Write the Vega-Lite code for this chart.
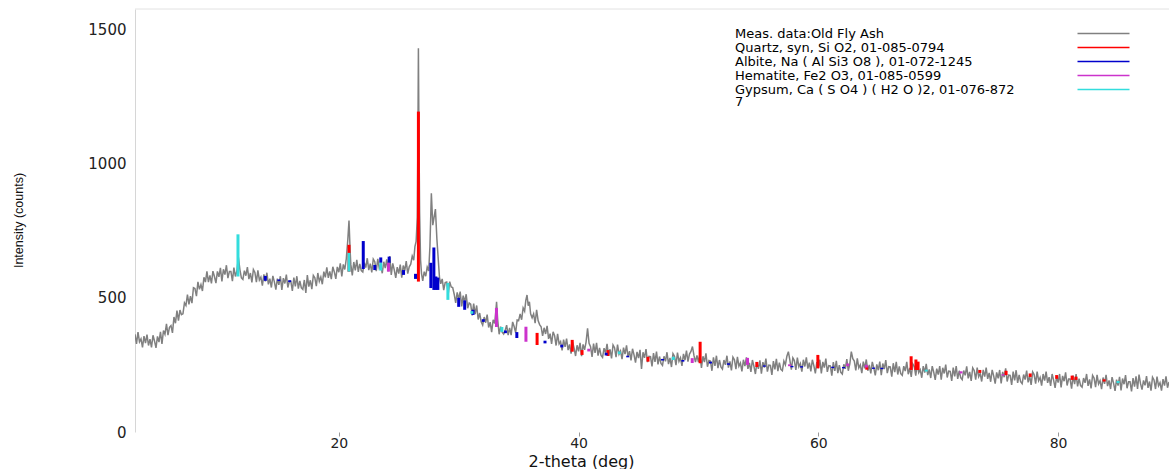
{
"$schema": "https://vega.github.io/schema/vega-lite/v6.json",
"width": 1034,
"height": 423,
"autosize": {"type": "none"},
"padding": {"left": 135, "top": 9, "right": 0, "bottom": 37},
"background": "white",
"config": {"view": {"stroke": null}, "font": "DejaVu Sans"},
"datasets": {
"meas": [
{"t":3,"i":364},{"t":3.125,"i":328},{"t":3.25,"i":372},{"t":3.375,"i":336},{"t":3.5,"i":347},{"t":3.625,"i":315},{"t":3.75,"i":357},{"t":3.875,"i":331},
{"t":4,"i":363},{"t":4.125,"i":322},{"t":4.25,"i":346},{"t":4.375,"i":315},{"t":4.5,"i":360},{"t":4.625,"i":339},{"t":4.75,"i":313},{"t":4.875,"i":356},
{"t":5,"i":335},{"t":5.125,"i":373},{"t":5.25,"i":328},{"t":5.375,"i":378},{"t":5.5,"i":364},{"t":5.625,"i":403},{"t":5.75,"i":361},{"t":5.875,"i":390},
{"t":6,"i":396},{"t":6.125,"i":369},{"t":6.25,"i":428},{"t":6.375,"i":405},{"t":6.5,"i":452},{"t":6.625,"i":415},{"t":6.75,"i":454},{"t":6.875,"i":437},
{"t":7,"i":440},{"t":7.125,"i":481},{"t":7.25,"i":471},{"t":7.375,"i":512},{"t":7.5,"i":475},{"t":7.625,"i":506},{"t":7.75,"i":480},{"t":7.875,"i":537},
{"t":8,"i":534},{"t":8.125,"i":506},{"t":8.25,"i":559},{"t":8.375,"i":531},{"t":8.5,"i":549},{"t":8.625,"i":525},{"t":8.75,"i":576},{"t":8.875,"i":558},
{"t":9,"i":598},{"t":9.125,"i":558},{"t":9.25,"i":583},{"t":9.375,"i":553},{"t":9.5,"i":599},{"t":9.625,"i":579},{"t":9.75,"i":554},{"t":9.875,"i":598},
{"t":10,"i":578},{"t":10.125,"i":611},{"t":10.25,"i":561},{"t":10.375,"i":606},{"t":10.5,"i":586},{"t":10.625,"i":621},{"t":10.75,"i":573},{"t":10.875,"i":598},
{"t":11,"i":598},{"t":11.125,"i":562},{"t":11.25,"i":612},{"t":11.375,"i":579},{"t":11.5,"i":600},{"t":11.625,"i":650},{"t":11.75,"i":605},{"t":11.875,"i":574},
{"t":12,"i":568},{"t":12.125,"i":601},{"t":12.25,"i":582},{"t":12.375,"i":614},{"t":12.5,"i":569},{"t":12.625,"i":592},{"t":12.75,"i":557},{"t":12.875,"i":605},
{"t":13,"i":594},{"t":13.125,"i":558},{"t":13.25,"i":602},{"t":13.375,"i":566},{"t":13.5,"i":577},{"t":13.625,"i":545},{"t":13.75,"i":587},{"t":13.875,"i":561},
{"t":14,"i":593},{"t":14.125,"i":550},{"t":14.25,"i":571},{"t":14.375,"i":538},{"t":14.5,"i":581},{"t":14.625,"i":559},{"t":14.75,"i":530},{"t":14.875,"i":571},
{"t":15,"i":548},{"t":15.125,"i":580},{"t":15.25,"i":529},{"t":15.375,"i":573},{"t":15.5,"i":553},{"t":15.625,"i":586},{"t":15.75,"i":538},{"t":15.875,"i":561},
{"t":16,"i":561},{"t":16.125,"i":525},{"t":16.25,"i":575},{"t":16.375,"i":542},{"t":16.5,"i":580},{"t":16.625,"i":534},{"t":16.75,"i":563},{"t":16.875,"i":537},
{"t":17,"i":531},{"t":17.125,"i":566},{"t":17.25,"i":518},{"t":17.375,"i":584},{"t":17.5,"i":541},{"t":17.625,"i":565},{"t":17.75,"i":532},{"t":17.875,"i":583},
{"t":18,"i":574},{"t":18.125,"i":543},{"t":18.25,"i":592},{"t":18.375,"i":561},{"t":18.5,"i":577},{"t":18.625,"i":550},{"t":18.75,"i":597},{"t":18.875,"i":576},
{"t":19,"i":613},{"t":19.125,"i":574},{"t":19.25,"i":598},{"t":19.375,"i":569},{"t":19.5,"i":615},{"t":19.625,"i":596},{"t":19.75,"i":570},{"t":19.875,"i":615},
{"t":20,"i":595},{"t":20.125,"i":628},{"t":20.25,"i":579},{"t":20.375,"i":624},{"t":20.5,"i":605},{"t":20.625,"i":645},{"t":20.75,"i":715},{"t":20.85,"i":787},{"t":20.95,"i":670},
{"t":21,"i":625},{"t":21.125,"i":583},{"t":21.25,"i":633},{"t":21.375,"i":602},{"t":21.5,"i":641},{"t":21.625,"i":596},{"t":21.75,"i":626},{"t":21.875,"i":601},
{"t":22,"i":596},{"t":22.125,"i":630},{"t":22.25,"i":612},{"t":22.375,"i":647},{"t":22.5,"i":603},{"t":22.625,"i":627},{"t":22.75,"i":594},{"t":22.875,"i":644},
{"t":23,"i":634},{"t":23.125,"i":599},{"t":23.25,"i":645},{"t":23.375,"i":610},{"t":23.5,"i":622},{"t":23.625,"i":591},{"t":23.75,"i":634},{"t":23.875,"i":610},
{"t":24,"i":643},{"t":24.125,"i":599},{"t":24.25,"i":655},{"t":24.375,"i":585},{"t":24.5,"i":628},{"t":24.625,"i":604},{"t":24.75,"i":574},{"t":24.875,"i":614},
{"t":25,"i":590},{"t":25.125,"i":623},{"t":25.25,"i":575},{"t":25.375,"i":620},{"t":25.5,"i":601},{"t":25.625,"i":636},{"t":25.75,"i":590},{"t":25.875,"i":615},
{"t":26,"i":625},{"t":26.125,"i":655},{"t":26.25,"i":640},{"t":26.35,"i":690},{"t":26.45,"i":710},{"t":26.55,"i":800},{"t":26.6,"i":1100},{"t":26.64,"i":1429},{"t":26.68,"i":1150},{"t":26.74,"i":820},{"t":26.82,"i":640},{"t":26.9,"i":590},
{"t":27,"i":563},{"t":27.125,"i":597},{"t":27.25,"i":580},{"t":27.375,"i":614},{"t":27.5,"i":600},{"t":27.6,"i":690},{"t":27.72,"i":889},{"t":27.84,"i":770},{"t":27.95,"i":800},{"t":28.06,"i":830},{"t":28.18,"i":720},{"t":28.3,"i":640},{"t":28.4,"i":575},
{"t":28.5,"i":552},{"t":28.625,"i":570},{"t":28.75,"i":528},{"t":28.875,"i":556},
{"t":29,"i":558},{"t":29.125,"i":513},{"t":29.25,"i":560},{"t":29.375,"i":540},{"t":29.5,"i":538},{"t":29.625,"i":513},{"t":29.75,"i":481},{"t":29.875,"i":520},
{"t":30,"i":495},{"t":30.125,"i":523},{"t":30.25,"i":468},{"t":30.375,"i":508},{"t":30.5,"i":484},{"t":30.625,"i":513},{"t":30.75,"i":461},{"t":30.875,"i":480},
{"t":31,"i":476},{"t":31.125,"i":434},{"t":31.25,"i":478},{"t":31.375,"i":439},{"t":31.5,"i":471},{"t":31.625,"i":419},{"t":31.75,"i":443},{"t":31.875,"i":410},
{"t":32,"i":398},{"t":32.125,"i":428},{"t":32.25,"i":407},{"t":32.375,"i":437},{"t":32.5,"i":389},{"t":32.625,"i":409},{"t":32.75,"i":372},{"t":32.875,"i":418},
{"t":33,"i":404},{"t":33.1,"i":450},{"t":33.16,"i":485},{"t":33.25,"i":420},{"t":33.375,"i":364},{"t":33.5,"i":392},{"t":33.625,"i":372},{"t":33.75,"i":365},{"t":33.875,"i":378},
{"t":34,"i":398},{"t":34.125,"i":361},{"t":34.25,"i":388},{"t":34.375,"i":361},{"t":34.5,"i":410},{"t":34.625,"i":393},{"t":34.75,"i":370},{"t":34.875,"i":417},
{"t":35,"i":415},{"t":35.125,"i":440},{"t":35.25,"i":418},{"t":35.375,"i":462},{"t":35.5,"i":450},{"t":35.6,"i":490},{"t":35.7,"i":510},{"t":35.8,"i":470},{"t":35.9,"i":485},
{"t":36,"i":440},{"t":36.125,"i":425},{"t":36.25,"i":440},{"t":36.375,"i":405},{"t":36.5,"i":455},{"t":36.625,"i":415},{"t":36.75,"i":400},{"t":36.875,"i":392},
{"t":37,"i":358},{"t":37.125,"i":388},{"t":37.25,"i":365},{"t":37.375,"i":395},{"t":37.5,"i":347},{"t":37.625,"i":366},{"t":37.75,"i":328},{"t":37.875,"i":373},
{"t":38,"i":359},{"t":38.125,"i":322},{"t":38.25,"i":365},{"t":38.375,"i":328},{"t":38.5,"i":337},{"t":38.625,"i":304},{"t":38.75,"i":344},{"t":38.875,"i":317},
{"t":39,"i":348},{"t":39.125,"i":305},{"t":39.25,"i":326},{"t":39.375,"i":292},{"t":39.5,"i":335},{"t":39.625,"i":312},{"t":39.75,"i":283},{"t":39.875,"i":323},
{"t":40,"i":300},{"t":40.125,"i":332},{"t":40.25,"i":282},{"t":40.375,"i":326},{"t":40.5,"i":306},{"t":40.625,"i":335},{"t":40.75,"i":386},{"t":40.875,"i":330},
{"t":41,"i":318},{"t":41.125,"i":280},{"t":41.25,"i":329},{"t":41.375,"i":295},{"t":41.5,"i":332},{"t":41.625,"i":284},{"t":41.75,"i":313},{"t":41.875,"i":285},
{"t":42,"i":278},{"t":42.125,"i":312},{"t":42.25,"i":294},{"t":42.375,"i":328},{"t":42.5,"i":284},{"t":42.625,"i":308},{"t":42.75,"i":274},{"t":42.875,"i":324},
{"t":43,"i":314},{"t":43.125,"i":279},{"t":43.25,"i":325},{"t":43.375,"i":290},{"t":43.5,"i":302},{"t":43.625,"i":271},{"t":43.75,"i":314},{"t":43.875,"i":290},
{"t":44,"i":323},{"t":44.125,"i":280},{"t":44.25,"i":301},{"t":44.375,"i":267},{"t":44.5,"i":310},{"t":44.625,"i":287},{"t":44.75,"i":258},{"t":44.875,"i":298},
{"t":45,"i":275},{"t":45.125,"i":306},{"t":45.25,"i":235},{"t":45.375,"i":297},{"t":45.5,"i":276},{"t":45.625,"i":309},{"t":45.75,"i":260},{"t":45.875,"i":282},
{"t":46,"i":281},{"t":46.125,"i":244},{"t":46.25,"i":294},{"t":46.375,"i":261},{"t":46.5,"i":299},{"t":46.625,"i":252},{"t":46.75,"i":281},{"t":46.875,"i":255},
{"t":47,"i":248},{"t":47.125,"i":282},{"t":47.25,"i":263},{"t":47.375,"i":297},{"t":47.5,"i":253},{"t":47.625,"i":276},{"t":47.75,"i":242},{"t":47.875,"i":292},
{"t":48,"i":282},{"t":48.125,"i":249},{"t":48.25,"i":296},{"t":48.375,"i":263},{"t":48.5,"i":276},{"t":48.625,"i":246},{"t":48.75,"i":291},{"t":48.875,"i":268},
{"t":49,"i":303},{"t":49.125,"i":262},{"t":49.25,"i":290},{"t":49.375,"i":300},{"t":49.5,"i":318},{"t":49.625,"i":285},{"t":49.75,"i":260},{"t":49.875,"i":285},
{"t":50,"i":260},{"t":50.125,"i":290},{"t":50.25,"i":239},{"t":50.375,"i":282},{"t":50.5,"i":260},{"t":50.625,"i":293},{"t":50.75,"i":243},{"t":50.875,"i":266},
{"t":51,"i":264},{"t":51.125,"i":228},{"t":51.25,"i":278},{"t":51.375,"i":246},{"t":51.5,"i":284},{"t":51.625,"i":238},{"t":51.75,"i":268},{"t":51.875,"i":242},
{"t":52,"i":234},{"t":52.125,"i":268},{"t":52.25,"i":250},{"t":52.375,"i":284},{"t":52.5,"i":240},{"t":52.625,"i":263},{"t":52.75,"i":229},{"t":52.875,"i":279},
{"t":53,"i":269},{"t":53.125,"i":234},{"t":53.25,"i":280},{"t":53.375,"i":245},{"t":53.5,"i":257},{"t":53.625,"i":226},{"t":53.75,"i":269},{"t":53.875,"i":245},
{"t":54,"i":278},{"t":54.125,"i":235},{"t":54.25,"i":257},{"t":54.375,"i":224},{"t":54.5,"i":268},{"t":54.625,"i":245},{"t":54.75,"i":216},{"t":54.875,"i":258},
{"t":55,"i":235},{"t":55.125,"i":267},{"t":55.25,"i":217},{"t":55.375,"i":260},{"t":55.5,"i":240},{"t":55.625,"i":273},{"t":55.75,"i":225},{"t":55.875,"i":249},
{"t":56,"i":248},{"t":56.125,"i":213},{"t":56.25,"i":264},{"t":56.375,"i":233},{"t":56.5,"i":272},{"t":56.625,"i":227},{"t":56.75,"i":258},{"t":56.875,"i":233},
{"t":57,"i":228},{"t":57.125,"i":264},{"t":57.25,"i":250},{"t":57.375,"i":282},{"t":57.5,"i":299},{"t":57.625,"i":268},{"t":57.75,"i":232},{"t":57.875,"i":276},
{"t":58,"i":266},{"t":58.125,"i":231},{"t":58.25,"i":277},{"t":58.375,"i":243},{"t":58.5,"i":255},{"t":58.625,"i":225},{"t":58.75,"i":269},{"t":58.875,"i":244},
{"t":59,"i":278},{"t":59.125,"i":236},{"t":59.25,"i":258},{"t":59.375,"i":226},{"t":59.5,"i":269},{"t":59.625,"i":247},{"t":59.75,"i":218},{"t":59.875,"i":260},
{"t":60,"i":238},{"t":60.125,"i":269},{"t":60.25,"i":218},{"t":60.375,"i":261},{"t":60.5,"i":240},{"t":60.625,"i":273},{"t":60.75,"i":224},{"t":60.875,"i":247},
{"t":61,"i":246},{"t":61.125,"i":210},{"t":61.25,"i":260},{"t":61.375,"i":228},{"t":61.5,"i":265},{"t":61.625,"i":219},{"t":61.75,"i":249},{"t":61.875,"i":222},
{"t":62,"i":216},{"t":62.125,"i":252},{"t":62.25,"i":235},{"t":62.375,"i":271},{"t":62.5,"i":228},{"t":62.625,"i":254},{"t":62.75,"i":299},{"t":62.875,"i":273},
{"t":63,"i":264},{"t":63.125,"i":229},{"t":63.25,"i":274},{"t":63.375,"i":239},{"t":63.5,"i":250},{"t":63.625,"i":219},{"t":63.75,"i":262},{"t":63.875,"i":237},
{"t":64,"i":270},{"t":64.125,"i":228},{"t":64.25,"i":250},{"t":64.375,"i":218},{"t":64.5,"i":261},{"t":64.625,"i":239},{"t":64.75,"i":211},{"t":64.875,"i":252},
{"t":65,"i":230},{"t":65.125,"i":262},{"t":65.25,"i":212},{"t":65.375,"i":255},{"t":65.5,"i":234},{"t":65.625,"i":268},{"t":65.75,"i":219},{"t":65.875,"i":243},
{"t":66,"i":242},{"t":66.125,"i":206},{"t":66.25,"i":256},{"t":66.375,"i":223},{"t":66.5,"i":261},{"t":66.625,"i":214},{"t":66.75,"i":244},{"t":66.875,"i":217},
{"t":67,"i":211},{"t":67.125,"i":245},{"t":67.25,"i":227},{"t":67.375,"i":261},{"t":67.5,"i":215},{"t":67.625,"i":239},{"t":67.75,"i":205},{"t":67.875,"i":254},
{"t":68,"i":244},{"t":68.125,"i":210},{"t":68.25,"i":255},{"t":68.375,"i":221},{"t":68.5,"i":232},{"t":68.625,"i":202},{"t":68.75,"i":245},{"t":68.875,"i":221},
{"t":69,"i":254},{"t":69.125,"i":212},{"t":69.25,"i":233},{"t":69.375,"i":201},{"t":69.5,"i":245},{"t":69.625,"i":223},{"t":69.75,"i":194},{"t":69.875,"i":236},
{"t":70,"i":214},{"t":70.125,"i":245},{"t":70.25,"i":195},{"t":70.375,"i":239},{"t":70.5,"i":218},{"t":70.625,"i":251},{"t":70.75,"i":203},{"t":70.875,"i":227},
{"t":71,"i":226},{"t":71.125,"i":190},{"t":71.25,"i":240},{"t":71.375,"i":207},{"t":71.5,"i":245},{"t":71.625,"i":198},{"t":71.75,"i":228},{"t":71.875,"i":202},
{"t":72,"i":195},{"t":72.125,"i":229},{"t":72.25,"i":211},{"t":72.375,"i":244},{"t":72.5,"i":200},{"t":72.625,"i":224},{"t":72.75,"i":190},{"t":72.875,"i":239},
{"t":73,"i":229},{"t":73.125,"i":195},{"t":73.25,"i":240},{"t":73.375,"i":206},{"t":73.5,"i":218},{"t":73.625,"i":188},{"t":73.75,"i":231},{"t":73.875,"i":206},
{"t":74,"i":240},{"t":74.125,"i":198},{"t":74.25,"i":220},{"t":74.375,"i":187},{"t":74.5,"i":231},{"t":74.625,"i":209},{"t":74.75,"i":180},{"t":74.875,"i":222},
{"t":75,"i":200},{"t":75.125,"i":231},{"t":75.25,"i":181},{"t":75.375,"i":224},{"t":75.5,"i":204},{"t":75.625,"i":237},{"t":75.75,"i":188},{"t":75.875,"i":212},
{"t":76,"i":211},{"t":76.125,"i":175},{"t":76.25,"i":225},{"t":76.375,"i":192},{"t":76.5,"i":230},{"t":76.625,"i":183},{"t":76.75,"i":213},{"t":76.875,"i":187},
{"t":77,"i":180},{"t":77.125,"i":214},{"t":77.25,"i":195},{"t":77.375,"i":229},{"t":77.5,"i":185},{"t":77.625,"i":209},{"t":77.75,"i":175},{"t":77.875,"i":224},
{"t":78,"i":214},{"t":78.125,"i":180},{"t":78.25,"i":225},{"t":78.375,"i":191},{"t":78.5,"i":203},{"t":78.625,"i":173},{"t":78.75,"i":216},{"t":78.875,"i":191},
{"t":79,"i":225},{"t":79.125,"i":183},{"t":79.25,"i":204},{"t":79.375,"i":172},{"t":79.5,"i":216},{"t":79.625,"i":193},{"t":79.75,"i":164},{"t":79.875,"i":206},
{"t":80,"i":184},{"t":80.125,"i":216},{"t":80.25,"i":166},{"t":80.375,"i":209},{"t":80.5,"i":189},{"t":80.625,"i":222},{"t":80.75,"i":173},{"t":80.875,"i":197},
{"t":81,"i":197},{"t":81.125,"i":161},{"t":81.25,"i":210},{"t":81.375,"i":178},{"t":81.5,"i":216},{"t":81.625,"i":170},{"t":81.75,"i":199},{"t":81.875,"i":173},
{"t":82,"i":167},{"t":82.125,"i":201},{"t":82.25,"i":183},{"t":82.375,"i":216},{"t":82.5,"i":172},{"t":82.625,"i":196},{"t":82.75,"i":162},{"t":82.875,"i":211},
{"t":83,"i":201},{"t":83.125,"i":167},{"t":83.25,"i":213},{"t":83.375,"i":179},{"t":83.5,"i":191},{"t":83.625,"i":160},{"t":83.75,"i":203},{"t":83.875,"i":179},
{"t":84,"i":213},{"t":84.125,"i":171},{"t":84.25,"i":192},{"t":84.375,"i":160},{"t":84.5,"i":204},{"t":84.625,"i":182},{"t":84.75,"i":153},{"t":84.875,"i":195},
{"t":85,"i":173},{"t":85.125,"i":205},{"t":85.25,"i":155},{"t":85.375,"i":199},{"t":85.5,"i":178},{"t":85.625,"i":212},{"t":85.75,"i":163},{"t":85.875,"i":187},
{"t":86,"i":187},{"t":86.125,"i":151},{"t":86.25,"i":201},{"t":86.375,"i":169},{"t":86.5,"i":207},{"t":86.625,"i":160},{"t":86.75,"i":214},{"t":86.875,"i":180},
{"t":87,"i":158},{"t":87.125,"i":192},{"t":87.25,"i":174},{"t":87.375,"i":208},{"t":87.5,"i":164},{"t":87.625,"i":188},{"t":87.75,"i":154},{"t":87.875,"i":204},
{"t":88,"i":194},{"t":88.125,"i":160},{"t":88.25,"i":206},{"t":88.375,"i":172},{"t":88.5,"i":184},{"t":88.625,"i":154},{"t":88.75,"i":197},{"t":88.875,"i":173},
{"t":89,"i":207},{"t":89.125,"i":165},{"t":89.25,"i":186}
],
"sticks": [
{"t":20.85,"p":"Quartz, syn, Si O2, 01-085-0794","lo":597,"hi":697},
{"t":26.64,"p":"Quartz, syn, Si O2, 01-085-0794","lo":560,"hi":1193},
{"t":36.54,"p":"Quartz, syn, Si O2, 01-085-0794","lo":324,"hi":369},
{"t":39.47,"p":"Quartz, syn, Si O2, 01-085-0794","lo":299,"hi":343},
{"t":40.29,"p":"Quartz, syn, Si O2, 01-085-0794","lo":287,"hi":305},
{"t":42.45,"p":"Quartz, syn, Si O2, 01-085-0794","lo":283,"hi":305},
{"t":45.79,"p":"Quartz, syn, Si O2, 01-085-0794","lo":262,"hi":280},
{"t":50.14,"p":"Quartz, syn, Si O2, 01-085-0794","lo":256,"hi":336},
{"t":54.87,"p":"Quartz, syn, Si O2, 01-085-0794","lo":242,"hi":261},
{"t":59.96,"p":"Quartz, syn, Si O2, 01-085-0794","lo":237,"hi":287},
{"t":64.04,"p":"Quartz, syn, Si O2, 01-085-0794","lo":232,"hi":245},
{"t":67.74,"p":"Quartz, syn, Si O2, 01-085-0794","lo":231,"hi":282},
{"t":68.14,"p":"Quartz, syn, Si O2, 01-085-0794","lo":231,"hi":270},
{"t":68.32,"p":"Quartz, syn, Si O2, 01-085-0794","lo":231,"hi":262},
{"t":73.47,"p":"Quartz, syn, Si O2, 01-085-0794","lo":220,"hi":231},
{"t":75.66,"p":"Quartz, syn, Si O2, 01-085-0794","lo":212,"hi":228},
{"t":77.67,"p":"Quartz, syn, Si O2, 01-085-0794","lo":205,"hi":218},
{"t":79.88,"p":"Quartz, syn, Si O2, 01-085-0794","lo":198,"hi":212},
{"t":81.17,"p":"Quartz, syn, Si O2, 01-085-0794","lo":194,"hi":210},
{"t":81.49,"p":"Quartz, syn, Si O2, 01-085-0794","lo":194,"hi":206},
{"t":83.84,"p":"Quartz, syn, Si O2, 01-085-0794","lo":188,"hi":196},
{"t":13.87,"p":"Albite, Na ( Al Si3 O8 ), 01-072-1245","lo":563,"hi":581},
{"t":15.0,"p":"Albite, Na ( Al Si3 O8 ), 01-072-1245","lo":562,"hi":568},
{"t":15.9,"p":"Albite, Na ( Al Si3 O8 ), 01-072-1245","lo":558,"hi":565},
{"t":22.04,"p":"Albite, Na ( Al Si3 O8 ), 01-072-1245","lo":607,"hi":711},
{"t":23.0,"p":"Albite, Na ( Al Si3 O8 ), 01-072-1245","lo":603,"hi":622},
{"t":23.5,"p":"Albite, Na ( Al Si3 O8 ), 01-072-1245","lo":630,"hi":650},
{"t":24.2,"p":"Albite, Na ( Al Si3 O8 ), 01-072-1245","lo":630,"hi":653},
{"t":25.4,"p":"Albite, Na ( Al Si3 O8 ), 01-072-1245","lo":585,"hi":603},
{"t":26.4,"p":"Albite, Na ( Al Si3 O8 ), 01-072-1245","lo":570,"hi":589},
{"t":27.68,"p":"Albite, Na ( Al Si3 O8 ), 01-072-1245","lo":536,"hi":630},
{"t":27.93,"p":"Albite, Na ( Al Si3 O8 ), 01-072-1245","lo":529,"hi":687},
{"t":28.1,"p":"Albite, Na ( Al Si3 O8 ), 01-072-1245","lo":529,"hi":579},
{"t":28.26,"p":"Albite, Na ( Al Si3 O8 ), 01-072-1245","lo":529,"hi":575},
{"t":30.0,"p":"Albite, Na ( Al Si3 O8 ), 01-072-1245","lo":466,"hi":500},
{"t":30.5,"p":"Albite, Na ( Al Si3 O8 ), 01-072-1245","lo":455,"hi":490},
{"t":31.2,"p":"Albite, Na ( Al Si3 O8 ), 01-072-1245","lo":436,"hi":455},
{"t":32.05,"p":"Albite, Na ( Al Si3 O8 ), 01-072-1245","lo":410,"hi":420},
{"t":33.9,"p":"Albite, Na ( Al Si3 O8 ), 01-072-1245","lo":368,"hi":378},
{"t":34.85,"p":"Albite, Na ( Al Si3 O8 ), 01-072-1245","lo":350,"hi":372},
{"t":37.2,"p":"Albite, Na ( Al Si3 O8 ), 01-072-1245","lo":330,"hi":340},
{"t":38.6,"p":"Albite, Na ( Al Si3 O8 ), 01-072-1245","lo":315,"hi":325},
{"t":42.3,"p":"Albite, Na ( Al Si3 O8 ), 01-072-1245","lo":285,"hi":295},
{"t":44.1,"p":"Albite, Na ( Al Si3 O8 ), 01-072-1245","lo":278,"hi":284},
{"t":47.0,"p":"Albite, Na ( Al Si3 O8 ), 01-072-1245","lo":266,"hi":272},
{"t":48.7,"p":"Albite, Na ( Al Si3 O8 ), 01-072-1245","lo":262,"hi":268},
{"t":51.0,"p":"Albite, Na ( Al Si3 O8 ), 01-072-1245","lo":255,"hi":262},
{"t":52.5,"p":"Albite, Na ( Al Si3 O8 ), 01-072-1245","lo":250,"hi":256},
{"t":55.5,"p":"Albite, Na ( Al Si3 O8 ), 01-072-1245","lo":243,"hi":248},
{"t":57.8,"p":"Albite, Na ( Al Si3 O8 ), 01-072-1245","lo":241,"hi":246},
{"t":58.6,"p":"Albite, Na ( Al Si3 O8 ), 01-072-1245","lo":240,"hi":245},
{"t":61.2,"p":"Albite, Na ( Al Si3 O8 ), 01-072-1245","lo":238,"hi":243},
{"t":62.1,"p":"Albite, Na ( Al Si3 O8 ), 01-072-1245","lo":237,"hi":242},
{"t":64.6,"p":"Albite, Na ( Al Si3 O8 ), 01-072-1245","lo":235,"hi":240},
{"t":65.3,"p":"Albite, Na ( Al Si3 O8 ), 01-072-1245","lo":234,"hi":239},
{"t":24.14,"p":"Hematite, Fe2 O3, 01-085-0599","lo":597,"hi":630},
{"t":33.15,"p":"Hematite, Fe2 O3, 01-085-0599","lo":391,"hi":462},
{"t":35.61,"p":"Hematite, Fe2 O3, 01-085-0599","lo":336,"hi":392},
{"t":40.85,"p":"Hematite, Fe2 O3, 01-085-0599","lo":300,"hi":310},
{"t":49.48,"p":"Hematite, Fe2 O3, 01-085-0599","lo":257,"hi":275},
{"t":54.09,"p":"Hematite, Fe2 O3, 01-085-0599","lo":250,"hi":276},
{"t":57.6,"p":"Hematite, Fe2 O3, 01-085-0599","lo":245,"hi":252},
{"t":62.45,"p":"Hematite, Fe2 O3, 01-085-0599","lo":245,"hi":255},
{"t":64.0,"p":"Hematite, Fe2 O3, 01-085-0599","lo":240,"hi":250},
{"t":71.9,"p":"Hematite, Fe2 O3, 01-085-0599","lo":218,"hi":226},
{"t":75.4,"p":"Hematite, Fe2 O3, 01-085-0599","lo":210,"hi":215},
{"t":11.59,"p":"Gypsum, Ca ( S O4 ) ( H2 O )2, 01-076-8727","lo":579,"hi":736},
{"t":20.85,"p":"Gypsum, Ca ( S O4 ) ( H2 O )2, 01-076-8727","lo":597,"hi":667},
{"t":23.5,"p":"Gypsum, Ca ( S O4 ) ( H2 O )2, 01-076-8727","lo":601,"hi":630},
{"t":29.1,"p":"Gypsum, Ca ( S O4 ) ( H2 O )2, 01-076-8727","lo":492,"hi":555},
{"t":31.1,"p":"Gypsum, Ca ( S O4 ) ( H2 O )2, 01-076-8727","lo":440,"hi":450},
{"t":33.6,"p":"Gypsum, Ca ( S O4 ) ( H2 O )2, 01-076-8727","lo":373,"hi":391},
{"t":43.4,"p":"Gypsum, Ca ( S O4 ) ( H2 O )2, 01-076-8727","lo":290,"hi":300},
{"t":47.9,"p":"Gypsum, Ca ( S O4 ) ( H2 O )2, 01-076-8727","lo":268,"hi":280},
{"t":69.0,"p":"Gypsum, Ca ( S O4 ) ( H2 O )2, 01-076-8727","lo":225,"hi":232},
{"t":85.0,"p":"Gypsum, Ca ( S O4 ) ( H2 O )2, 01-076-8727","lo":182,"hi":190}
]
},
"layer": [
{
"data": {"values": [{}]},
"mark": {"type": "rule", "color": "#e2e2e2", "strokeWidth": 1},
"encoding": {"y": {"datum": 1575, "type": "quantitative", "scale": {"domain": [0, 1575], "nice": false}}}
},
{
"data": {"name": "meas"},
"mark": {"type": "line", "strokeWidth": 1.5, "clip": true},
"encoding": {
"x": {"field": "t", "type": "quantitative", "scale": {"domain": [3, 89.25], "nice": false, "zero": false},
"axis": {"title": "2-theta (deg)", "values": [20, 40, 60, 80], "grid": false, "domain": false, "ticks": true, "tickSize": 4, "tickColor": "#999999", "labelFont": "DejaVu Sans", "labelFontSize": 14, "labelColor": "#222222", "labelPadding": 0, "titleFont": "DejaVu Sans", "titleFontSize": 16, "titleFontWeight": "normal", "titleColor": "#111111", "titleX": 446, "titleY": 29, "titleBaseline": "middle", "titleAlign": "center"}},
"y": {"field": "i", "type": "quantitative", "scale": {"domain": [0, 1575], "nice": false},
"axis": {"title": "Intensity (counts)", "format": "d", "values": [0, 500, 1000, 1500], "grid": false, "domain": true, "domainColor": "#d6d6d6", "ticks": false, "labelPadding": 9, "labelFont": "DejaVu Sans", "labelFontSize": 15, "labelColor": "#222222", "titleFont": "Liberation Sans", "titleFontSize": 12.5, "titleFontWeight": "normal", "titleColor": "#111111", "titleX": -117, "titleY": 211, "titleBaseline": "middle", "titleAlign": "center"}},
"color": {"datum": "Meas. data:Old Fly Ash", "type": "nominal", "title": null,
"scale": {"domain": ["Meas. data:Old Fly Ash", "Quartz, syn, Si O2, 01-085-0794", "Albite, Na ( Al Si3 O8 ), 01-072-1245", "Hematite, Fe2 O3, 01-085-0599", "Gypsum, Ca ( S O4 ) ( H2 O )2, 01-076-8727"], "range": ["#808080", "#ff0000", "#0000cc", "#cc33cc", "#33dddd"]},
"legend": {"title": null, "orient": "none", "legendX": 601, "legendY": 18, "symbolType": "M-5.2,0H5.2", "symbolSize": 100, "symbolStrokeWidth": 1.5, "symbolOffset": 361, "labelOffset": -375, "rowPadding": 0, "labelFontSize": 13, "labelFont": "DejaVu Sans", "labelColor": "#000000", "labelLimit": 500, "padding": 0,
"labelExpr": "datum.value == 'Gypsum, Ca ( S O4 ) ( H2 O )2, 01-076-8727' ? ['Gypsum, Ca ( S O4 ) ( H2 O )2, 01-076-872', '7'] : datum.label",
"encode": {"labels": {"update": {"lineHeight": {"value": 12}}}}}
}
}
},
{
"data": {"name": "sticks"},
"mark": {"type": "rule", "strokeWidth": 3, "clip": true},
"encoding": {
"x": {"field": "t", "type": "quantitative"},
"y": {"field": "lo", "type": "quantitative"},
"y2": {"field": "hi"},
"color": {"field": "p", "type": "nominal", "title": null}
}
}
]
}
